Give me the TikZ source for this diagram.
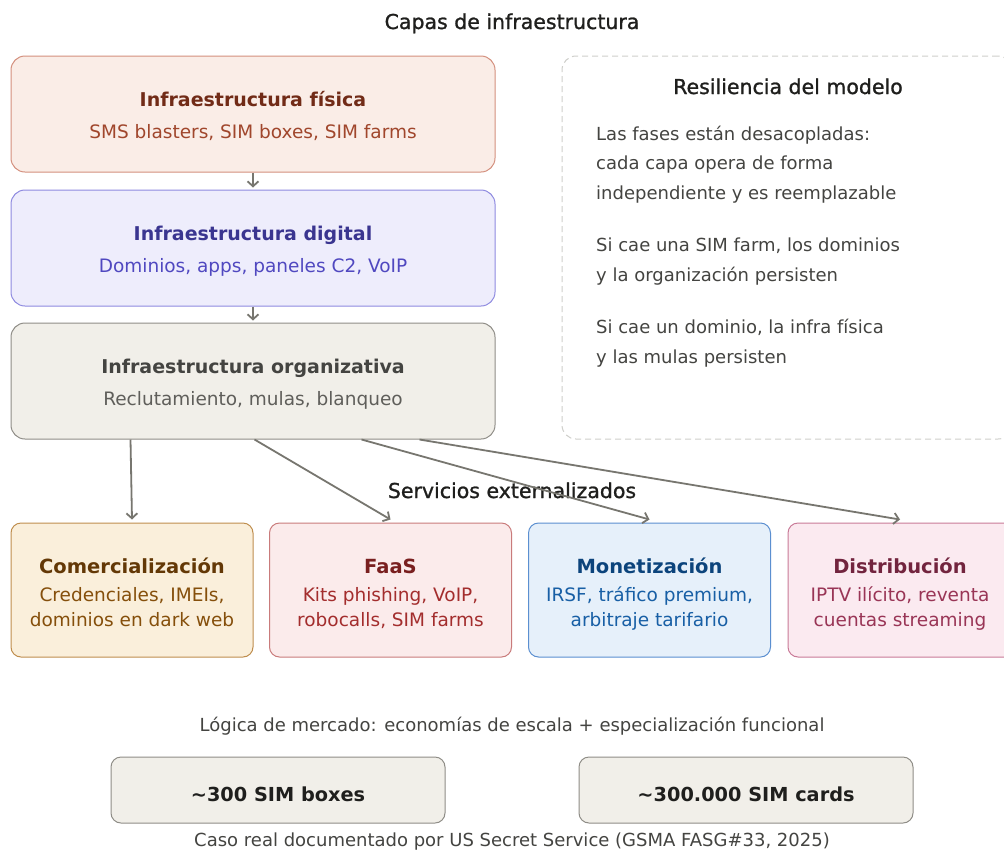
\documentclass[tikz,border=0pt]{standalone}
\usepackage{fontspec}
\setmainfont{DejaVu Sans}
\newfontfamily\medfont[FakeBold=1.1]{DejaVu Sans}
\usetikzlibrary{arrows.meta}

\definecolor{physfill}{HTML}{FAEDE7}\definecolor{physdraw}{HTML}{D4907E}
\definecolor{physhead}{HTML}{712B17}\definecolor{physsub}{HTML}{A0462C}
\definecolor{digfill}{HTML}{EEEDFC}\definecolor{digdraw}{HTML}{8E8AE0}
\definecolor{dighead}{HTML}{3A3590}\definecolor{digsub}{HTML}{5048C0}
\definecolor{orgfill}{HTML}{F1EFE9}\definecolor{orgdraw}{HTML}{8F8D87}
\definecolor{orghead}{HTML}{444441}\definecolor{orgsub}{HTML}{5F5E5A}
\definecolor{comfill}{HTML}{FAEFDB}\definecolor{comdraw}{HTML}{BF8E4E}
\definecolor{comhead}{HTML}{633806}\definecolor{comsub}{HTML}{854F0B}
\definecolor{faasfill}{HTML}{FBEBEB}\definecolor{faasdraw}{HTML}{C97B7B}
\definecolor{faashead}{HTML}{791F1F}\definecolor{faassub}{HTML}{A32D2D}
\definecolor{monfill}{HTML}{E6F0FA}\definecolor{mondraw}{HTML}{5B8FD0}
\definecolor{monhead}{HTML}{0C447C}\definecolor{monsub}{HTML}{185FA5}
\definecolor{distfill}{HTML}{FBEAF0}\definecolor{distdraw}{HTML}{C97A98}
\definecolor{disthead}{HTML}{72243E}\definecolor{distsub}{HTML}{993556}
\definecolor{ink}{HTML}{1F1F1D}\definecolor{bodytext}{HTML}{444441}
\definecolor{arrowgray}{HTML}{77766F}\definecolor{dashgray}{HTML}{CFCFCB}

\newcommand{\fsz}[1]{\fontsize{#1}{#1}\selectfont}

\tikzset{
  layerbox/.style={draw, line width=1pt, rounded corners=14pt, minimum width=484pt, minimum height=116pt, inner sep=0pt},
  svcbox/.style={draw, line width=1pt, rounded corners=10pt, minimum width=242pt, minimum height=134pt, inner sep=0pt},
  statbox/.style={draw=orgdraw, fill=orgfill, line width=1pt, rounded corners=10pt, minimum width=334pt, minimum height=66pt, inner sep=0pt},
  titletxt/.style={font=\medfont\fsz{20.5}, text=ink, inner sep=0pt, anchor=base},
  headtxt/.style={font=\fsz{19}\bfseries, inner sep=0pt, anchor=base},
  svchead/.style={font=\fsz{19.5}\bfseries, inner sep=0pt, anchor=base},
  subtxt/.style={font=\fsz{18.5}, inner sep=0pt, anchor=base},
  bodytxt/.style={font=\fsz{18}, text=bodytext, inner sep=0pt, anchor=base west},
  notetxt/.style={font=\fsz{18}, text=bodytext, inner sep=0pt, anchor=base},
  stattxt/.style={font=\fsz{19.3}\bfseries, text=ink, inner sep=0pt, anchor=base},
  arr/.style={draw=arrowgray, line width=1.8pt, -{Straight Barb[length=5pt,width=11pt,line width=1.8pt]}},
}

\begin{document}
\begin{tikzpicture}[x=1pt,y=-1pt]
\useasboundingbox (0,0) rectangle (1004,852);
\clip (0,0) rectangle (1004,852);
\fill[white] (0,0) rectangle (1004,852);

% heading of the layer stack
\node[titletxt] (captitle) at (512,29) {Capas de infraestructura};

% infrastructure layers
\node[layerbox, draw=physdraw, fill=physfill] (phys) at (253,114) {};
\node[headtxt, text=physhead] (physh) at (253,106) {Infraestructura física};
\node[subtxt, text=physsub] (physs) at (253,138.5) {SMS blasters, SIM boxes, SIM farms};

\node[layerbox, draw=digdraw, fill=digfill] (dig) at (253,248) {};
\node[headtxt, text=dighead] (digh) at (253,240) {Infraestructura digital};
\node[subtxt, text=digsub] (digs) at (253,272.5) {Dominios, apps, paneles C2, VoIP};

\node[layerbox, draw=orgdraw, fill=orgfill] (org) at (253,381) {};
\node[headtxt, text=orghead] (orgh) at (253,373) {Infraestructura organizativa};
\node[subtxt, text=orgsub] (orgs) at (253,405.5) {Reclutamiento, mulas, blanqueo};

\draw[arr] (phys.south) -- ([yshift=2pt]dig.north);
\draw[arr] (dig.south) -- ([yshift=2pt]org.north);

% resilience panel
\node[draw=dashgray, line width=1pt, dash pattern=on 6pt off 4pt, rounded corners=14pt,
      minimum width=450pt, minimum height=383pt, inner sep=0pt] (resil) at (787,247.5) {};
\node[titletxt] (resilh) at (788,94) {Resiliencia del modelo};
\node[bodytxt] (r1) at (596,140) {Las fases están desacopladas:};
\node[bodytxt] (r2) at (596,169) {cada capa opera de forma};
\node[bodytxt] (r3) at (596,199) {independiente y es reemplazable};
\node[bodytxt] (r4) at (596,251) {Si cae una SIM farm, los dominios};
\node[bodytxt] (r5) at (596,281) {y la organización persisten};
\node[bodytxt] (r6) at (596,333) {Si cae un dominio, la infra física};
\node[bodytxt] (r7) at (596,363) {y las mulas persisten};

% outsourced services
\node[titletxt] (svctitle) at (512,498) {Servicios externalizados};

\node[svcbox, draw=comdraw, fill=comfill] (com) at (132,590) {};
\node[svchead, text=comhead] (comh) at (132,573) {Comercialización};
\node[subtxt, text=comsub] (coms1) at (132,601.5) {Credenciales, IMEIs,};
\node[subtxt, text=comsub] (coms2) at (132,626.5) {dominios en dark web};

\node[svcbox, draw=faasdraw, fill=faasfill] (faas) at (390.5,590) {};
\node[svchead, text=faashead] (faash) at (390.5,573) {FaaS};
\node[subtxt, text=faassub] (faass1) at (390.5,601.5) {Kits phishing, VoIP,};
\node[subtxt, text=faassub] (faass2) at (390.5,626.5) {robocalls, SIM farms};

\node[svcbox, draw=mondraw, fill=monfill] (mon) at (649.5,590) {};
\node[svchead, text=monhead] (monh) at (649.5,573) {Monetización};
\node[subtxt, text=monsub] (mons1) at (649.5,601.5) {IRSF, tráfico premium,};
\node[subtxt, text=monsub] (mons2) at (649.5,626.5) {arbitraje tarifario};

\node[svcbox, draw=distdraw, fill=distfill] (dist) at (909,590) {};
\node[svchead, text=disthead] (disth) at (900,573) {Distribución};
\node[subtxt, text=distsub] (dists1) at (900,601.5) {IPTV ilícito, reventa};
\node[subtxt, text=distsub] (dists2) at (900,626.5) {cuentas streaming};

\draw[arr] ([xshift=120pt]org.south west) -- ([yshift=3pt]com.north);
\draw[arr] ([xshift=244pt]org.south west) -- ([yshift=3pt]faas.north);
\draw[arr] ([xshift=351pt]org.south west) -- ([yshift=3pt]mon.north);
\draw[arr] ([xshift=409pt]org.south west) -- ([xshift=-9pt,yshift=3pt]dist.north);

% market logic and scale figures
\node[notetxt] (logic) at (512,731.5) {Lógica de mercado: economías de escala + especialización funcional};
\node[statbox] (boxes) at (278,790) {};
\node[stattxt] (boxest) at (278,801) {\textasciitilde300 SIM boxes};
\node[statbox] (cards) at (746,790) {};
\node[stattxt] (cardst) at (746,801) {\textasciitilde300.000 SIM cards};
\node[notetxt] (source) at (512,846.5) {Caso real documentado por US Secret Service (GSMA FASG\#33, 2025)};
\end{tikzpicture}
\end{document}
